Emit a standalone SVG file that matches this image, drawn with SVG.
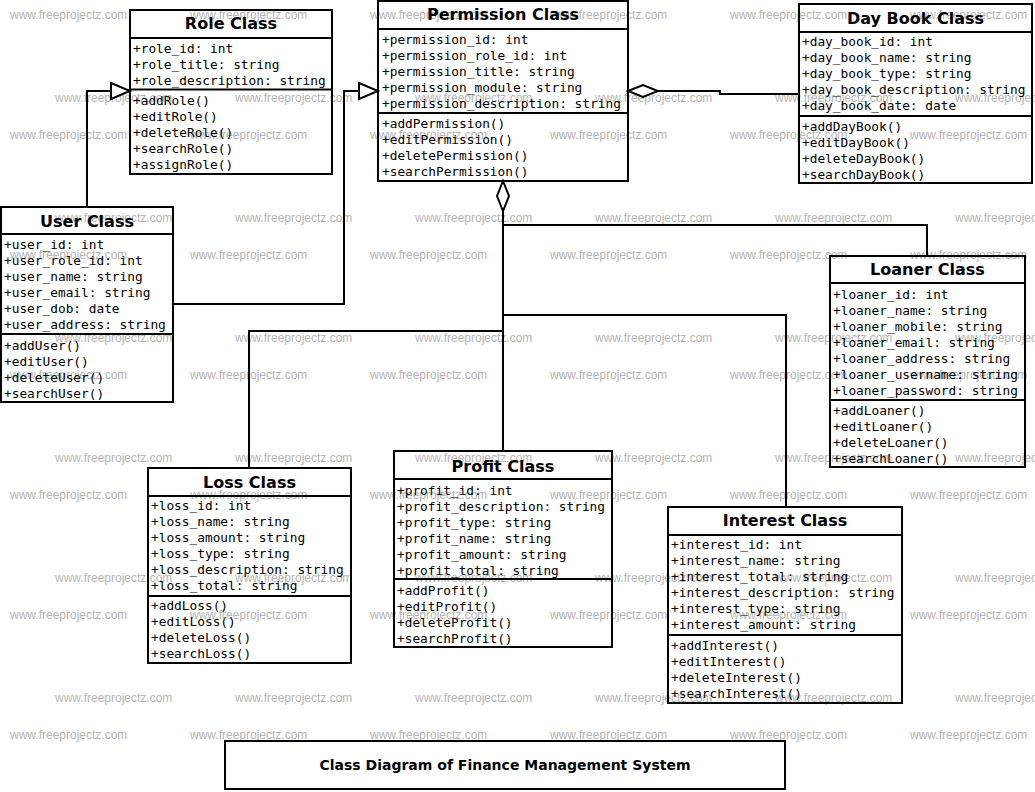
<svg xmlns="http://www.w3.org/2000/svg" width="1035" height="792" viewBox="0 0 1035 792">
<style>
.bg{fill:#fff}
.box{fill:none;stroke:#000;stroke-width:2}
.sep{stroke:#000;stroke-width:2}
.title{font-family:"DejaVu Sans",sans-serif;font-weight:bold;font-size:16px;text-anchor:middle;fill:#000}
.m{font-family:"DejaVu Sans Mono",monospace;font-size:12.8px;fill:#000}
.wm{font-family:"Liberation Sans",Arial,sans-serif;font-size:12px;fill:#b4b4b4}
.conn{fill:none;stroke:#000;stroke-width:2}
.cap{font-family:"DejaVu Sans",sans-serif;font-weight:bold;font-size:14px;text-anchor:middle;fill:#000}
</style>
<defs>
<marker id="tri" markerUnits="userSpaceOnUse" viewBox="0 0 24 20" markerWidth="24" markerHeight="20" refX="21" refY="10" orient="auto" overflow="visible">
<path d="M2,2 L21,10 L2,18 Z" fill="#fff" stroke="#000" stroke-width="2"/>
</marker>
<marker id="dia" markerUnits="userSpaceOnUse" viewBox="0 0 32 14" markerWidth="32" markerHeight="14" refX="1" refY="7" orient="auto" overflow="visible">
<path d="M1,7 L16,1 L31,7 L16,13 Z" fill="#fff" stroke="#000" stroke-width="2"/>
</marker>
</defs>
<rect class="bg" x="0" y="0" width="1035" height="792"/>
<g id="watermarks">
<text class="wm" x="10" y="19">www.freeprojectz.com</text><text class="wm" x="190" y="19">www.freeprojectz.com</text><text class="wm" x="370" y="19">www.freeprojectz.com</text><text class="wm" x="550" y="19">www.freeprojectz.com</text><text class="wm" x="730" y="19">www.freeprojectz.com</text><text class="wm" x="910" y="19">www.freeprojectz.com</text>
<text class="wm" x="55" y="102">www.freeprojectz.com</text><text class="wm" x="235" y="102">www.freeprojectz.com</text><text class="wm" x="415" y="102">www.freeprojectz.com</text><text class="wm" x="595" y="102">www.freeprojectz.com</text><text class="wm" x="775" y="102">www.freeprojectz.com</text><text class="wm" x="955" y="102">www.freeprojectz.com</text>
<text class="wm" x="10" y="139">www.freeprojectz.com</text><text class="wm" x="190" y="139">www.freeprojectz.com</text><text class="wm" x="370" y="139">www.freeprojectz.com</text><text class="wm" x="550" y="139">www.freeprojectz.com</text><text class="wm" x="730" y="139">www.freeprojectz.com</text><text class="wm" x="910" y="139">www.freeprojectz.com</text>
<text class="wm" x="55" y="222">www.freeprojectz.com</text><text class="wm" x="235" y="222">www.freeprojectz.com</text><text class="wm" x="415" y="222">www.freeprojectz.com</text><text class="wm" x="595" y="222">www.freeprojectz.com</text><text class="wm" x="775" y="222">www.freeprojectz.com</text><text class="wm" x="955" y="222">www.freeprojectz.com</text>
<text class="wm" x="10" y="259">www.freeprojectz.com</text><text class="wm" x="190" y="259">www.freeprojectz.com</text><text class="wm" x="370" y="259">www.freeprojectz.com</text><text class="wm" x="550" y="259">www.freeprojectz.com</text><text class="wm" x="730" y="259">www.freeprojectz.com</text><text class="wm" x="910" y="259">www.freeprojectz.com</text>
<text class="wm" x="55" y="342">www.freeprojectz.com</text><text class="wm" x="235" y="342">www.freeprojectz.com</text><text class="wm" x="415" y="342">www.freeprojectz.com</text><text class="wm" x="595" y="342">www.freeprojectz.com</text><text class="wm" x="775" y="342">www.freeprojectz.com</text><text class="wm" x="955" y="342">www.freeprojectz.com</text>
<text class="wm" x="10" y="379">www.freeprojectz.com</text><text class="wm" x="190" y="379">www.freeprojectz.com</text><text class="wm" x="370" y="379">www.freeprojectz.com</text><text class="wm" x="550" y="379">www.freeprojectz.com</text><text class="wm" x="730" y="379">www.freeprojectz.com</text><text class="wm" x="910" y="379">www.freeprojectz.com</text>
<text class="wm" x="55" y="462">www.freeprojectz.com</text><text class="wm" x="235" y="462">www.freeprojectz.com</text><text class="wm" x="415" y="462">www.freeprojectz.com</text><text class="wm" x="595" y="462">www.freeprojectz.com</text><text class="wm" x="775" y="462">www.freeprojectz.com</text><text class="wm" x="955" y="462">www.freeprojectz.com</text>
<text class="wm" x="10" y="499">www.freeprojectz.com</text><text class="wm" x="190" y="499">www.freeprojectz.com</text><text class="wm" x="370" y="499">www.freeprojectz.com</text><text class="wm" x="550" y="499">www.freeprojectz.com</text><text class="wm" x="730" y="499">www.freeprojectz.com</text><text class="wm" x="910" y="499">www.freeprojectz.com</text>
<text class="wm" x="55" y="582">www.freeprojectz.com</text><text class="wm" x="235" y="582">www.freeprojectz.com</text><text class="wm" x="415" y="582">www.freeprojectz.com</text><text class="wm" x="595" y="582">www.freeprojectz.com</text><text class="wm" x="775" y="582">www.freeprojectz.com</text><text class="wm" x="955" y="582">www.freeprojectz.com</text>
<text class="wm" x="10" y="619">www.freeprojectz.com</text><text class="wm" x="190" y="619">www.freeprojectz.com</text><text class="wm" x="370" y="619">www.freeprojectz.com</text><text class="wm" x="550" y="619">www.freeprojectz.com</text><text class="wm" x="730" y="619">www.freeprojectz.com</text><text class="wm" x="910" y="619">www.freeprojectz.com</text>
<text class="wm" x="55" y="702">www.freeprojectz.com</text><text class="wm" x="235" y="702">www.freeprojectz.com</text><text class="wm" x="415" y="702">www.freeprojectz.com</text><text class="wm" x="595" y="702">www.freeprojectz.com</text><text class="wm" x="775" y="702">www.freeprojectz.com</text><text class="wm" x="955" y="702">www.freeprojectz.com</text>
<text class="wm" x="10" y="739">www.freeprojectz.com</text><text class="wm" x="190" y="739">www.freeprojectz.com</text><text class="wm" x="370" y="739">www.freeprojectz.com</text><text class="wm" x="550" y="739">www.freeprojectz.com</text><text class="wm" x="730" y="739">www.freeprojectz.com</text><text class="wm" x="910" y="739">www.freeprojectz.com</text>
</g>
<g id="connectors">
<path class="conn" d="M87,207 L87,91 L130,91" marker-end="url(#tri)"/>
<path class="conn" d="M173,304 L344,304 L344,91 L378,91" marker-end="url(#tri)"/>
<path class="conn" d="M628,91 L720,91 L720,94 L799,94" marker-start="url(#dia)"/>
<path class="conn" d="M503,181 L503,451" marker-start="url(#dia)"/>
<path class="conn" d="M503,225 L927,225 L927,256"/>
<path class="conn" d="M503,315 L786,315 L786,507"/>
<path class="conn" d="M503,331 L249,331 L249,468"/>
</g>
<g id="role-class">
<rect class="box" x="130" y="10" width="202" height="164"/>
<line class="sep" x1="130" y1="38" x2="332" y2="38"/>
<line class="sep" x1="130" y1="89.5" x2="332" y2="89.5"/>
<text class="title" x="231" y="29">Role Class</text>
<text class="m" x="133" y="52.5">+role_id: int</text>
<text class="m" x="133" y="68.5">+role_title: string</text>
<text class="m" x="133" y="84.5">+role_description: string</text>
<text class="m" x="133" y="104.5">+addRole()</text>
<text class="m" x="133" y="120.5">+editRole()</text>
<text class="m" x="133" y="136.5">+deleteRole()</text>
<text class="m" x="133" y="152.5">+searchRole()</text>
<text class="m" x="133" y="168.5">+assignRole()</text>
</g>
<g id="permission-class">
<rect class="box" x="378" y="1" width="250" height="180"/>
<line class="sep" x1="378" y1="29" x2="628" y2="29"/>
<line class="sep" x1="378" y1="113" x2="628" y2="113"/>
<text class="title" x="503" y="20">Permission Class</text>
<text class="m" x="382" y="43.5">+permission_id: int</text>
<text class="m" x="382" y="59.5">+permission_role_id: int</text>
<text class="m" x="382" y="75.5">+permission_title: string</text>
<text class="m" x="382" y="91.5">+permission_module: string</text>
<text class="m" x="382" y="107.5">+permission_description: string</text>
<text class="m" x="382" y="128">+addPermission()</text>
<text class="m" x="382" y="144">+editPermission()</text>
<text class="m" x="382" y="160">+deletePermission()</text>
<text class="m" x="382" y="176">+searchPermission()</text>
</g>
<g id="day-book-class">
<rect class="box" x="799" y="4" width="233" height="179"/>
<line class="sep" x1="799" y1="32" x2="1032" y2="32"/>
<line class="sep" x1="799" y1="116" x2="1032" y2="116"/>
<text class="title" x="915.5" y="24">Day Book Class</text>
<text class="m" x="802" y="46">+day_book_id: int</text>
<text class="m" x="802" y="62">+day_book_name: string</text>
<text class="m" x="802" y="78">+day_book_type: string</text>
<text class="m" x="802" y="94">+day_book_description: string</text>
<text class="m" x="802" y="110">+day_book_date: date</text>
<text class="m" x="802" y="130.5">+addDayBook()</text>
<text class="m" x="802" y="146.5">+editDayBook()</text>
<text class="m" x="802" y="162.5">+deleteDayBook()</text>
<text class="m" x="802" y="178.5">+searchDayBook()</text>
</g>
<g id="user-class">
<rect class="box" x="1" y="207" width="172" height="195"/>
<line class="sep" x1="1" y1="234" x2="173" y2="234"/>
<line class="sep" x1="1" y1="334" x2="173" y2="334"/>
<text class="title" x="87" y="226.5">User Class</text>
<text class="m" x="4" y="248.5">+user_id: int</text>
<text class="m" x="4" y="264.5">+user_role_id: int</text>
<text class="m" x="4" y="280.5">+user_name: string</text>
<text class="m" x="4" y="296.5">+user_email: string</text>
<text class="m" x="4" y="312.5">+user_dob: date</text>
<text class="m" x="4" y="328.5">+user_address: string</text>
<text class="m" x="4" y="349.5">+addUser()</text>
<text class="m" x="4" y="365.5">+editUser()</text>
<text class="m" x="4" y="381.5">+deleteUser()</text>
<text class="m" x="4" y="397.5">+searchUser()</text>
</g>
<g id="loaner-class">
<rect class="box" x="830" y="256" width="195" height="211"/>
<line class="sep" x1="830" y1="283" x2="1025" y2="283"/>
<line class="sep" x1="830" y1="400" x2="1025" y2="400"/>
<text class="title" x="927.5" y="275">Loaner Class</text>
<text class="m" x="833" y="298.5">+loaner_id: int</text>
<text class="m" x="833" y="314.5">+loaner_name: string</text>
<text class="m" x="833" y="330.5">+loaner_mobile: string</text>
<text class="m" x="833" y="346.5">+loaner_email: string</text>
<text class="m" x="833" y="362.5">+loaner_address: string</text>
<text class="m" x="833" y="378.5">+loaner_username: string</text>
<text class="m" x="833" y="394.5">+loaner_password: string</text>
<text class="m" x="833" y="414.5">+addLoaner()</text>
<text class="m" x="833" y="430.5">+editLoaner()</text>
<text class="m" x="833" y="446.5">+deleteLoaner()</text>
<text class="m" x="833" y="462.5">+searchLoaner()</text>
</g>
<g id="loss-class">
<rect class="box" x="148" y="468" width="203" height="195"/>
<line class="sep" x1="148" y1="496" x2="351" y2="496"/>
<line class="sep" x1="148" y1="596" x2="351" y2="596"/>
<text class="title" x="249.5" y="487.5">Loss Class</text>
<text class="m" x="151" y="510">+loss_id: int</text>
<text class="m" x="151" y="526">+loss_name: string</text>
<text class="m" x="151" y="542">+loss_amount: string</text>
<text class="m" x="151" y="558">+loss_type: string</text>
<text class="m" x="151" y="574">+loss_description: string</text>
<text class="m" x="151" y="590">+loss_total: string</text>
<text class="m" x="151" y="610">+addLoss()</text>
<text class="m" x="151" y="626">+editLoss()</text>
<text class="m" x="151" y="642">+deleteLoss()</text>
<text class="m" x="151" y="658">+searchLoss()</text>
</g>
<g id="profit-class">
<rect class="box" x="394" y="451" width="218" height="196"/>
<line class="sep" x1="394" y1="479" x2="612" y2="479"/>
<line class="sep" x1="394" y1="579" x2="612" y2="579"/>
<text class="title" x="503" y="471.5">Profit Class</text>
<text class="m" x="397" y="494.5">+profit_id: int</text>
<text class="m" x="397" y="510.5">+profit_description: string</text>
<text class="m" x="397" y="526.5">+profit_type: string</text>
<text class="m" x="397" y="542.5">+profit_name: string</text>
<text class="m" x="397" y="558.5">+profit_amount: string</text>
<text class="m" x="397" y="574.5">+profit_total: string</text>
<text class="m" x="397" y="594.5">+addProfit()</text>
<text class="m" x="397" y="610.5">+editProfit()</text>
<text class="m" x="397" y="626.5">+deleteProfit()</text>
<text class="m" x="397" y="642.5">+searchProfit()</text>
</g>
<g id="interest-class">
<rect class="box" x="668" y="507" width="234" height="196"/>
<line class="sep" x1="668" y1="535" x2="902" y2="535"/>
<line class="sep" x1="668" y1="635" x2="902" y2="635"/>
<text class="title" x="785" y="526">Interest Class</text>
<text class="m" x="671" y="549">+interest_id: int</text>
<text class="m" x="671" y="565">+interest_name: string</text>
<text class="m" x="671" y="581">+interest_total: string</text>
<text class="m" x="671" y="597">+interest_description: string</text>
<text class="m" x="671" y="613">+interest_type: string</text>
<text class="m" x="671" y="629">+interest_amount: string</text>
<text class="m" x="671" y="649.5">+addInterest()</text>
<text class="m" x="671" y="665.5">+editInterest()</text>
<text class="m" x="671" y="681.5">+deleteInterest()</text>
<text class="m" x="671" y="697.5">+searchInterest()</text>
</g>
<g id="diagram-title">
<rect class="box" x="225" y="741" width="560" height="48"/>
<text class="cap" x="505" y="770">Class Diagram of Finance Management System</text>
</g>
</svg>
